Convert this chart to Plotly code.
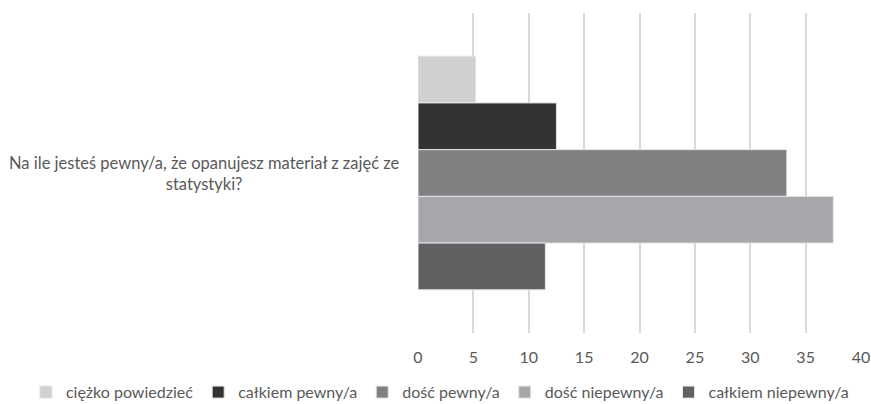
import plotly.graph_objects as go

# Survey question (single category on the vertical axis)
question = ["Na ile jesteś pewny/a, że opanujesz materiał z zajęć ze<br>statystyki?"]

# Answer options and their shares (%)
answers = ["ciężko powiedzieć", "całkiem pewny/a", "dość pewny/a",
           "dość niepewny/a", "całkiem niepewny/a"]
shares = [5.2, 12.5, 33.3, 37.5, 11.5]

x_ticks = [0, 5, 10, 15, 20, 25, 30, 35, 40]

colors = ["#d0d0d2", "#333333", "#808083", "#a6a7aa", "#606062"]

FONT = "Lato"
TEXT = "#595959"

fig = go.Figure()
for name, val, col in zip(answers, shares, colors):
    fig.add_trace(go.Bar(
        y=question, x=[val], name=name, orientation="h",
        marker=dict(color=col, line=dict(color="#e4e4e6", width=1)),
    ))

fig.update_layout(
    width=871, height=404,
    margin=dict(l=418, r=10, t=13, b=71, autoexpand=False),
    paper_bgcolor="white", plot_bgcolor="white",
    barmode="group", bargap=0.27, bargroupgap=0,
    font=dict(family=FONT, size=16, color=TEXT),
    showlegend=True,
    legend=dict(orientation="h", x=-0.885, xanchor="left",
                y=-0.185, yanchor="middle",
                font=dict(family=FONT, size=16, color=TEXT),
                itemwidth=30, tracegroupgap=0),
    xaxis=dict(range=[0, 40], tickvals=x_ticks, showgrid=True,
               gridcolor="#d9d9d9", gridwidth=1.5, zeroline=False,
               showline=False, ticks="", ticklabelstandoff=13,
               tickfont=dict(family=FONT, size=16, color=TEXT)),
    yaxis=dict(autorange="reversed", showticklabels=False, showgrid=False,
               zeroline=False, showline=False, ticks=""),
)

# Category label, centred as a wrapped text block left of the plot
fig.add_annotation(
    text=question[0], xref="paper", yref="y", x=0, y=question[0],
    xanchor="right", yanchor="middle", xshift=-16, align="center",
    showarrow=False, font=dict(family=FONT, size=16.5, color=TEXT),
)

fig.write_html("out.html")
